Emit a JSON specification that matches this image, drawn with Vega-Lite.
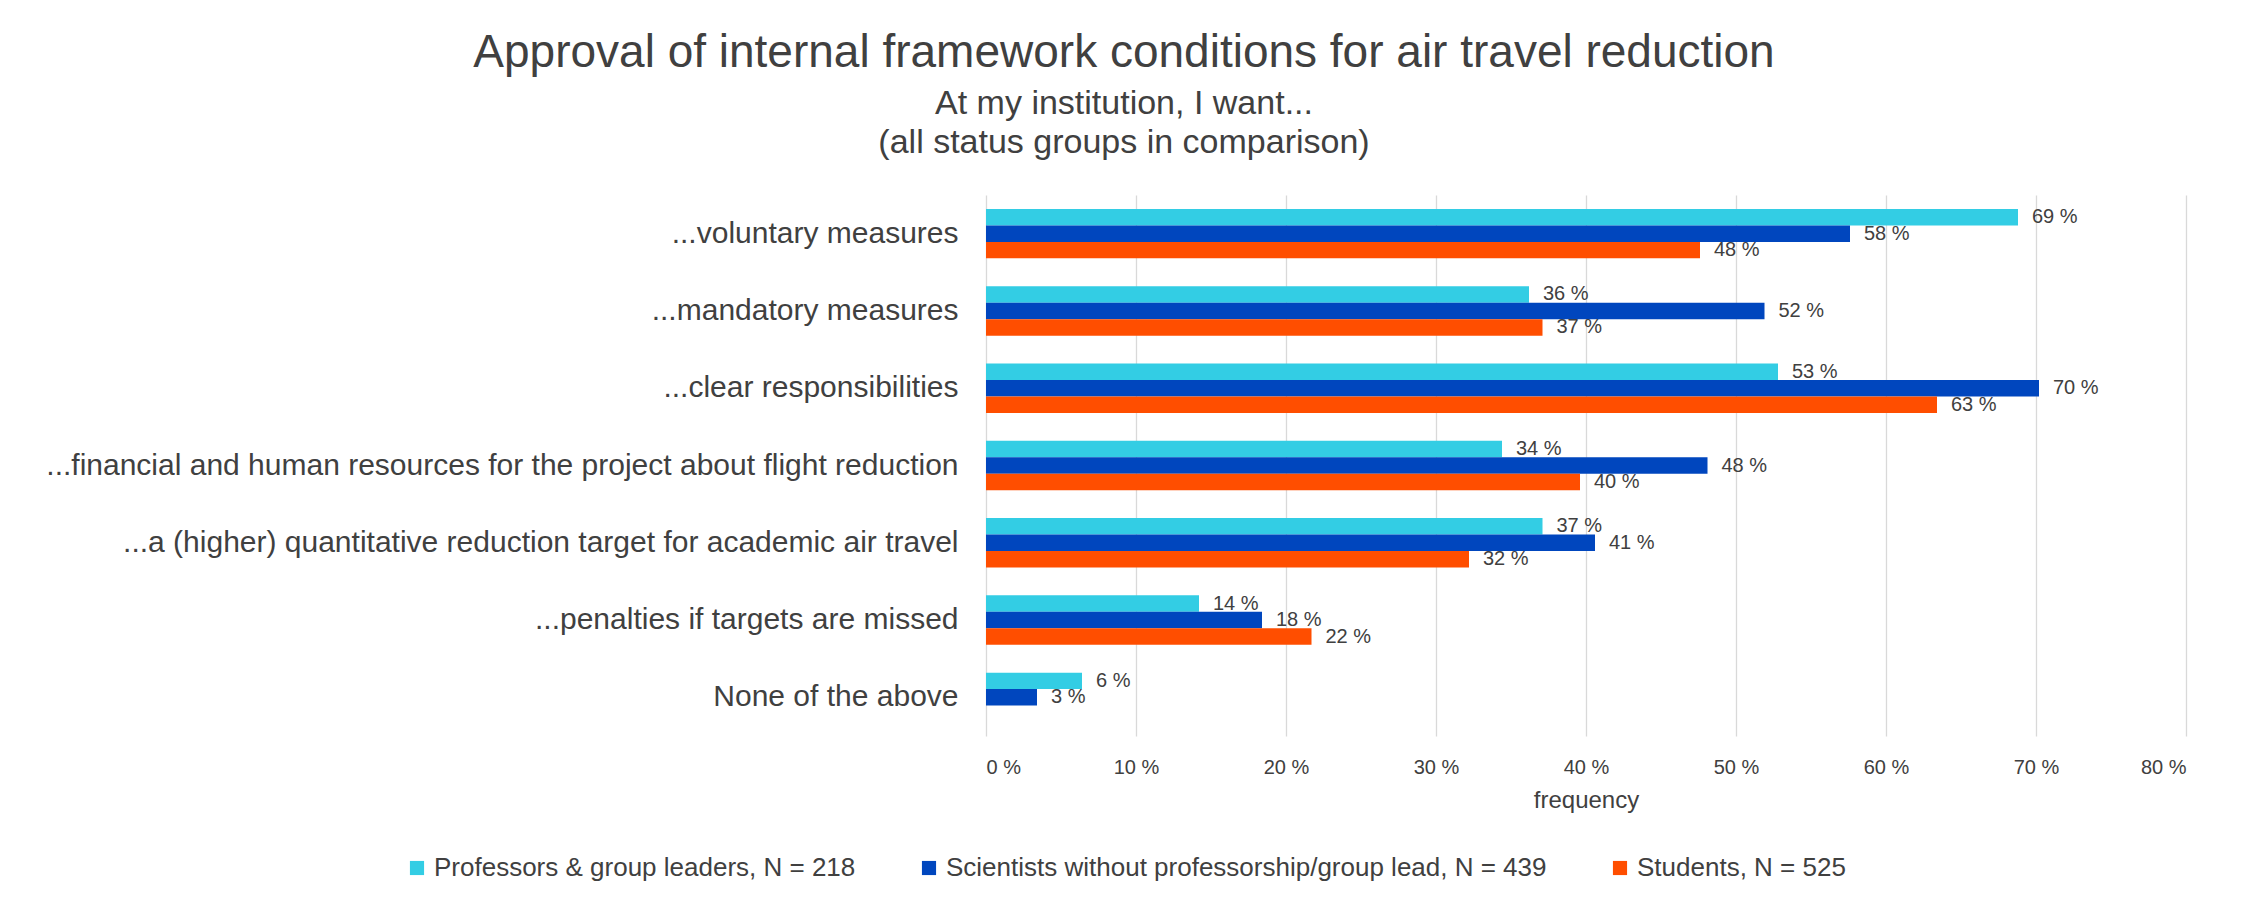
{
  "$schema": "https://vega.github.io/schema/vega-lite/v6.json",
  "autosize": {"type": "none"},
  "width": 1200,
  "height": 541,
  "padding": {"left": 986, "top": 195, "right": 63, "bottom": 172},
  "background": "white",
  "title": {
    "text": "Approval of internal framework conditions for air travel reduction",
    "subtitle": ["At my institution, I want...", "(all status groups in comparison)"],
    "anchor": "middle",
    "frame": "group",
    "dx": -462,
    "offset": 34,
    "font": "Liberation Sans",
    "fontSize": 46,
    "fontWeight": "normal",
    "color": "#404040",
    "subtitleFont": "Liberation Sans",
    "subtitleFontSize": 34,
    "subtitleColor": "#404040",
    "subtitleLineHeight": 39,
    "subtitlePadding": 10
  },
  "data": {
    "values": [
      {"category": "...voluntary measures", "group": "Professors & group leaders, N = 218", "value": 68.8},
      {"category": "...voluntary measures", "group": "Scientists without professorship/group lead, N = 439", "value": 57.6},
      {"category": "...voluntary measures", "group": "Students, N = 525", "value": 47.6},
      {"category": "...mandatory measures", "group": "Professors & group leaders, N = 218", "value": 36.2},
      {"category": "...mandatory measures", "group": "Scientists without professorship/group lead, N = 439", "value": 51.9},
      {"category": "...mandatory measures", "group": "Students, N = 525", "value": 37.1},
      {"category": "...clear responsibilities", "group": "Professors & group leaders, N = 218", "value": 52.8},
      {"category": "...clear responsibilities", "group": "Scientists without professorship/group lead, N = 439", "value": 70.2},
      {"category": "...clear responsibilities", "group": "Students, N = 525", "value": 63.4},
      {"category": "...financial and human resources for the project about flight reduction", "group": "Professors & group leaders, N = 218", "value": 34.4},
      {"category": "...financial and human resources for the project about flight reduction", "group": "Scientists without professorship/group lead, N = 439", "value": 48.1},
      {"category": "...financial and human resources for the project about flight reduction", "group": "Students, N = 525", "value": 39.6},
      {"category": "...a (higher) quantitative reduction target for academic air travel", "group": "Professors & group leaders, N = 218", "value": 37.1},
      {"category": "...a (higher) quantitative reduction target for academic air travel", "group": "Scientists without professorship/group lead, N = 439", "value": 40.6},
      {"category": "...a (higher) quantitative reduction target for academic air travel", "group": "Students, N = 525", "value": 32.2},
      {"category": "...penalties if targets are missed", "group": "Professors & group leaders, N = 218", "value": 14.2},
      {"category": "...penalties if targets are missed", "group": "Scientists without professorship/group lead, N = 439", "value": 18.4},
      {"category": "...penalties if targets are missed", "group": "Students, N = 525", "value": 21.7},
      {"category": "None of the above", "group": "Professors & group leaders, N = 218", "value": 6.4},
      {"category": "None of the above", "group": "Scientists without professorship/group lead, N = 439", "value": 3.4}
    ]
  },
  "encoding": {
    "y": {
      "field": "category",
      "type": "nominal",
      "sort": null,
      "scale": {"paddingInner": 0.36, "paddingOuter": 0.18},
      "axis": {
        "title": null,
        "domain": false,
        "ticks": false,
        "labelFont": "Liberation Sans",
        "labelFontSize": 30,
        "labelColor": "#404040",
        "labelPadding": 28,
        "labelLimit": 1200
      }
    },
    "yOffset": {
      "field": "group",
      "type": "nominal",
      "sort": ["Professors & group leaders, N = 218", "Scientists without professorship/group lead, N = 439", "Students, N = 525"],
      "scale": {"domain": ["Professors & group leaders, N = 218", "Scientists without professorship/group lead, N = 439", "Students, N = 525"], "paddingInner": 0, "paddingOuter": 0}
    },
    "x": {
      "field": "value",
      "type": "quantitative",
      "scale": {"domain": [0, 80], "nice": false},
      "axis": {
        "title": "frequency",
        "values": [0, 10, 20, 30, 40, 50, 60, 70, 80],
        "labelExpr": "datum.value + ' %'",
        "domain": false,
        "ticks": false,
        "grid": true,
        "gridColor": "#D9D9D9",
        "gridWidth": 1.3,
        "labelFont": "Liberation Sans",
        "labelFontSize": 20,
        "labelColor": "#404040",
        "labelPadding": 21,
        "titleFont": "Liberation Sans",
        "titleFontSize": 24,
        "titleFontWeight": "normal",
        "titleColor": "#404040",
        "titlePadding": 11
      }
    }
  },
  "layer": [
    {
      "mark": {"type": "bar"},
      "encoding": {
        "color": {
          "field": "group",
          "type": "nominal",
          "scale": {
            "domain": ["Professors & group leaders, N = 218", "Scientists without professorship/group lead, N = 439", "Students, N = 525"],
            "range": ["#33CDE4", "#0046BE", "#FF4E00"]
          },
          "legend": {
            "title": null,
            "orient": "none",
            "direction": "horizontal",
            "legendX": -582,
            "legendY": 660,
            "symbolType": "square",
            "symbolSize": 200,
            "symbolStrokeWidth": 0,
            "labelFont": "Liberation Sans",
            "labelFontSize": 26,
            "labelColor": "#404040",
            "labelOffset": 4,
            "labelLimit": 800,
            "columnPadding": 60
          }
        }
      }
    },
    {
      "transform": [{"calculate": "format(datum.value, '.0f') + ' %'", "as": "label"}],
      "mark": {"type": "text", "align": "left", "baseline": "middle", "dx": 14, "font": "Liberation Sans", "fontSize": 20, "color": "#404040"},
      "encoding": {"text": {"field": "label"}}
    }
  ],
  "config": {"view": {"stroke": null}}
}
